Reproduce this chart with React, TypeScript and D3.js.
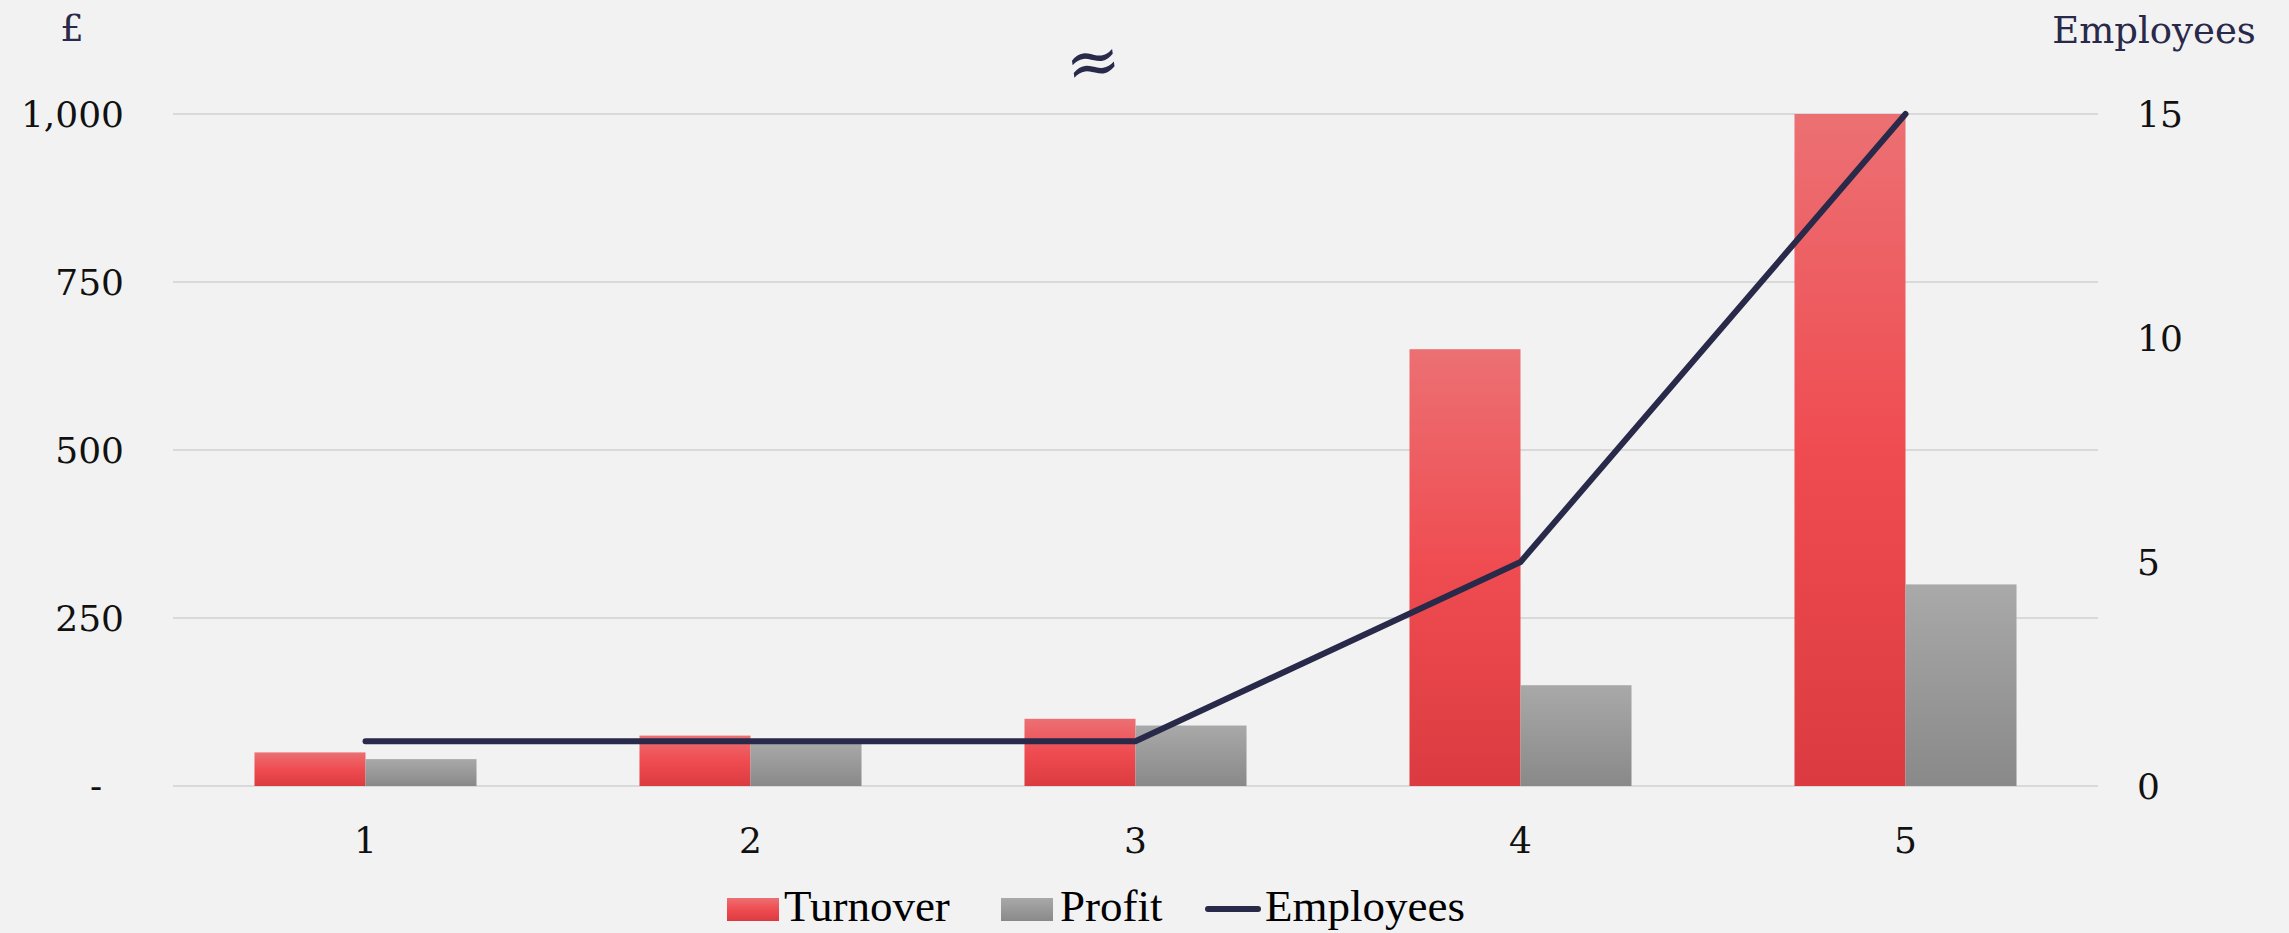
import React from "react";
import * as d3 from "d3";

const categories = ["1", "2", "3", "4", "5"];
const turnover = [50, 75, 100, 650, 1000];
const profit = [40, 65, 90, 150, 300];
const employees = [1, 1, 1, 5, 15];
const leftTicks = [0, 250, 500, 750, 1000];
const leftTickLabels = ["-", "250", "500", "750", "1,000"];
const rightTicks = [0, 5, 10, 15];
const seriesNames = ["Turnover", "Profit"];

const W = 2289;
const H = 933;
const plotLeft = 173;
const plotRight = 2098;
const plotTop = 114;
const plotBottom = 786;

const axisFont = "'DejaVu Serif', Georgia, serif";
const legendFont = "'Liberation Serif', 'Times New Roman', serif";
const navy = "#29294a";

export default function App() {
  const x0 = d3.scaleBand<string>().domain(categories).range([plotLeft, plotRight]).paddingInner(0).paddingOuter(0);
  const x1 = d3.scaleBand<string>().domain(seriesNames).range([0, x0.bandwidth()]).paddingInner(0).paddingOuter(0.734);
  const yL = d3.scaleLinear().domain([0, 1000]).range([plotBottom, plotTop]);
  const yR = d3.scaleLinear().domain([0, 15]).range([plotBottom, plotTop]);

  const line = d3
    .line<number>()
    .x((_, i) => (x0(categories[i]) as number) + x0.bandwidth() / 2)
    .y((d) => yR(d));

  const values: Record<string, number[]> = { Turnover: turnover, Profit: profit };
  const fills: Record<string, string> = { Turnover: "url(#gradT)", Profit: "url(#gradP)" };

  return (
    <svg width={W} height={H} style={{ position: "absolute", left: 0, top: 0, display: "block" }}>
      <defs>
        <linearGradient id="gradT" x1="0" y1="0" x2="0" y2="1">
          <stop offset="0" stopColor="#ec7073" />
          <stop offset="0.5" stopColor="#ef4c51" />
          <stop offset="1" stopColor="#db3b40" />
        </linearGradient>
        <linearGradient id="gradP" x1="0" y1="0" x2="0" y2="1">
          <stop offset="0" stopColor="#a9a9a9" />
          <stop offset="1" stopColor="#898989" />
        </linearGradient>
      </defs>
      <rect x={0} y={0} width={W} height={H} fill="#f2f2f2" />

      {leftTicks.map((t) => (
        <line key={"g" + t} x1={plotLeft} x2={plotRight} y1={yL(t)} y2={yL(t)} stroke="#d9d9d9" strokeWidth={2} />
      ))}

      {leftTicks.map((t, i) =>
        t === 0 ? (
          <text key={"l" + t} x={96} y={yL(t) + 12} fontFamily={axisFont} fontSize={36} textAnchor="middle" fill="#111">
            -
          </text>
        ) : (
          <text key={"l" + t} x={124} y={yL(t) + 12.5} fontFamily={axisFont} fontSize={36} textAnchor="end" fill="#111">
            {leftTickLabels[i]}
          </text>
        )
      )}

      {rightTicks.map((t) => (
        <text key={"r" + t} x={2137} y={yR(t) + 12.5} fontFamily={axisFont} fontSize={36} textAnchor="start" fill="#111">
          {t}
        </text>
      ))}

      {categories.map((c) => (
        <text
          key={"c" + c}
          x={(x0(c) as number) + x0.bandwidth() / 2}
          y={853}
          fontFamily={axisFont}
          fontSize={36}
          textAnchor="middle"
          fill="#111"
        >
          {c}
        </text>
      ))}

      {categories.map((c, i) => (
        <g key={"b" + c} transform={`translate(${x0(c)},0)`}>
          {seriesNames.map((s) => (
            <rect
              key={s}
              x={x1(s)}
              y={yL(values[s][i])}
              width={x1.bandwidth()}
              height={plotBottom - yL(values[s][i])}
              fill={fills[s]}
            />
          ))}
        </g>
      ))}

      <path d={line(employees) || ""} fill="none" stroke={navy} strokeWidth={6} strokeLinecap="round" strokeLinejoin="miter" />

      <text x={72} y={41} fontFamily={axisFont} fontSize={37} textAnchor="middle" fill={navy}>
        £
      </text>
      <text x={2154} y={43} fontFamily={axisFont} fontSize={37} textAnchor="middle" fill={navy}>
        Employees
      </text>
      <text
        x={1093}
        y={84}
        fontFamily={axisFont}
        fontSize={66}
        textAnchor="middle"
        fill={navy}
        transform="rotate(-8 1093 62)"
      >
        ≈
      </text>

      <g>
        <rect x={727} y={898} width={52} height={23} fill="url(#gradT)" />
        <text x={784} y={921} fontFamily={legendFont} fontSize={45} fill="#000">
          Turnover
        </text>
        <rect x={1001} y={898} width={52} height={23} fill="url(#gradP)" />
        <text x={1060} y={921} fontFamily={legendFont} fontSize={45} fill="#000">
          Profit
        </text>
        <line x1={1208} x2={1258} y1={909} y2={909} stroke={navy} strokeWidth={6} strokeLinecap="round" />
        <text x={1265} y={921} fontFamily={legendFont} fontSize={45} fill="#000">
          Employees
        </text>
      </g>
    </svg>
  );
}
